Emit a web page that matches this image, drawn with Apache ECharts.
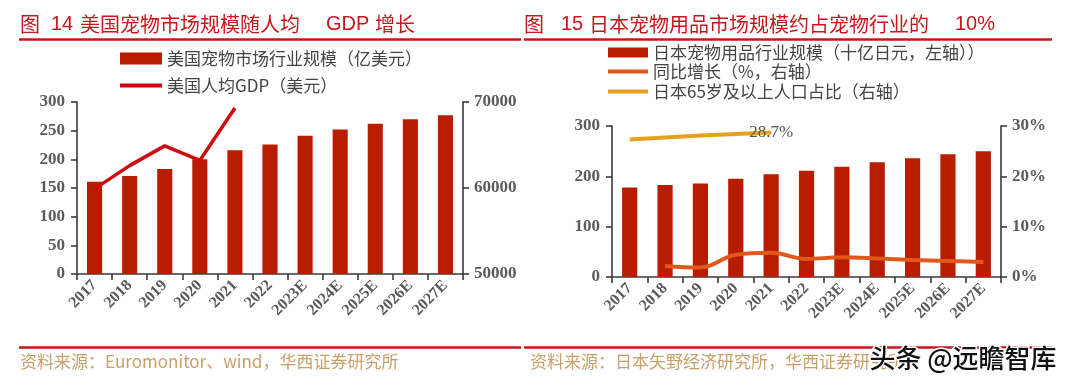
<!DOCTYPE html>
<html>
<head>
<meta charset="utf-8">
<script src="https://cdn.jsdelivr.net/npm/echarts@6/dist/echarts.min.js"></script>
<style>
html,body{margin:0;padding:0;background:#fff;}
#c{width:1080px;height:385px;}
</style>
</head>
<body>
<div id="c"></div>
<script>
// ---- data ----
const years = ['2017','2018','2019','2020','2021','2022','2023E','2024E','2025E','2026E','2027E'];
const usMarket = [161, 171, 183, 200, 216, 226, 241, 252, 262, 270, 277];
const usGdp = [59900, 62600, 64900, 63200, 69300];
const jpMarket = [178, 183, 186, 195, 204, 211, 219, 228, 236, 244, 250];
const jpGrowth = [null, 2.2, 1.9, 4.4, 4.8, 3.6, 3.9, 3.7, 3.4, 3.2, 3.0];
const jpAging = [27.3, 27.7, 28.1, 28.4, 28.7];
const usLeftTicks = {min: 0, max: 300, interval: 50};
const usRightTicks = {min: 50000, max: 70000, interval: 10000};
const jpLeftTicks = {min: 0, max: 300, interval: 100};
const jpRightTicks = {min: 0, max: 30, interval: 10};

const names = {
  usBar: '美国宠物市场行业规模（亿美元）',
  usLine: '美国人均GDP（美元）',
  jpBar: '日本宠物用品行业规模（十亿日元，左轴））',
  jpGrowth: '同比增长（%，右轴）',
  jpAging: '日本65岁及以上人口占比（右轴）'
};

const CJK = '"Noto Sans CJK SC", "Noto Sans", sans-serif';
const SERIF = '"Liberation Serif", "DejaVu Serif", serif';
const RED = '#c8161d';
const BAR = '#b81d00';
const AX = '#3a3a3a';
const LBL = '#5a5a5a';

function yAxisCfg(grid, ticks, pos, suffix) {
  return {
    type: 'value', gridIndex: grid, position: pos,
    min: ticks.min, max: ticks.max, interval: ticks.interval,
    axisLine: {show: true, lineStyle: {color: AX, width: 1.6}},
    axisTick: {show: true, length: 6, lineStyle: {color: AX, width: 1.6}},
    splitLine: {show: false},
    axisLabel: {color: LBL, fontFamily: SERIF, fontWeight: 'bold', fontSize: 17,
      margin: pos === 'left' ? 12 : 11, formatter: v => String(v) + (suffix || '')}
  };
}
function xAxisCfg(grid) {
  return {
    type: 'category', gridIndex: grid, data: years, boundaryGap: true,
    axisLine: {show: true, lineStyle: {color: AX, width: 1.6}},
    axisTick: {show: true, length: 6, alignWithLabel: false, lineStyle: {color: AX, width: 1.6}},
    axisLabel: {rotate: 45, color: LBL, fontFamily: SERIF, fontWeight: 'bold', fontSize: 16, margin: 9, interval: 0}
  };
}
function legendCfg(name, left, top, w, h) {
  return {
    data: [name], left: left, top: top, itemWidth: w, itemHeight: h, icon: 'rect',
    padding: 0, itemGap: 0, selectedMode: false,
    textStyle: {fontFamily: CJK, fontSize: 17, color: '#444'}
  };
}

const chart = echarts.init(document.getElementById('c'), null, {renderer: 'canvas'});
chart.setOption({
  animation: false,
  backgroundColor: '#fff',
  grid: [
    {left: 77, right: 617, top: 102, height: 172},
    {left: 612, right: 79, top: 126, height: 151}
  ],
  xAxis: [xAxisCfg(0), xAxisCfg(1)],
  yAxis: [
    yAxisCfg(0, usLeftTicks, 'left'),
    yAxisCfg(0, usRightTicks, 'right'),
    yAxisCfg(1, jpLeftTicks, 'left'),
    yAxisCfg(1, jpRightTicks, 'right', '%')
  ],
  legend: [
    legendCfg(names.usBar, 120, 50, 42, 12),
    legendCfg(names.usLine, 120, 77, 42, 4),
    legendCfg(names.jpBar, 608, 44, 40, 10),
    legendCfg(names.jpGrowth, 608, 63, 40, 4),
    legendCfg(names.jpAging, 608, 83, 40, 4)
  ],
  series: [
    {name: names.usBar, type: 'bar', xAxisIndex: 0, yAxisIndex: 0, data: usMarket,
      barWidth: '43%', itemStyle: {color: BAR}},
    {name: names.usLine, type: 'line', xAxisIndex: 0, yAxisIndex: 1, data: usGdp,
      symbol: 'none', lineStyle: {color: '#cc0a10', width: 3.5}, itemStyle: {color: '#cc0a10'}, z: 5},
    {name: names.jpBar, type: 'bar', xAxisIndex: 1, yAxisIndex: 2, data: jpMarket,
      barWidth: '43%', itemStyle: {color: BAR}},
    {name: names.jpGrowth, type: 'line', xAxisIndex: 1, yAxisIndex: 3, data: jpGrowth,
      smooth: 0.4, symbol: 'none', lineStyle: {color: '#e2581a', width: 4}, itemStyle: {color: '#e2581a'}, z: 5},
    {name: names.jpAging, type: 'line', xAxisIndex: 1, yAxisIndex: 3,
      data: jpAging.map((v, i) => i === jpAging.length - 1
        ? {value: v, symbol: 'circle', symbolSize: 1,
           label: {show: true, position: 'inside', formatter: '{c}%', fontFamily: SERIF, fontSize: 17, color: '#555'}}
        : v),
      symbol: 'none', showSymbol: true, lineStyle: {color: '#e8a020', width: 4}, itemStyle: {color: '#e8a020'}, z: 5}
  ],
  graphic: [
    // titles
    {type: 'text', left: 20, top: 14, style: {text: '图', font: '20px ' + CJK, fill: RED}},
    {type: 'text', left: 51, top: 14, style: {text: '14', font: '20px "Liberation Sans", sans-serif', fill: RED}},
    {type: 'text', left: 80, top: 14, style: {text: '美国宠物市场规模随人均', font: '20px ' + CJK, fill: RED}},
    {type: 'text', left: 326, top: 14, style: {text: 'GDP', font: '20px "Liberation Sans", sans-serif', fill: RED}},
    {type: 'text', left: 375, top: 14, style: {text: '增长', font: '20px ' + CJK, fill: RED}},
    {type: 'text', left: 524, top: 14, style: {text: '图', font: '20px ' + CJK, fill: RED}},
    {type: 'text', left: 561, top: 14, style: {text: '15', font: '20px "Liberation Sans", sans-serif', fill: RED}},
    {type: 'text', left: 589, top: 14, style: {text: '日本宠物用品市场规模约占宠物行业的', font: '20px ' + CJK, fill: RED}},
    {type: 'text', left: 955, top: 14, style: {text: '10%', font: '20px "Liberation Sans", sans-serif', fill: RED}},
    // red rules
    {type: 'line', shape: {x1: 19, y1: 39.5, x2: 521, y2: 39.5}, style: {stroke: RED, lineWidth: 2.5}},
    {type: 'line', shape: {x1: 524, y1: 39.5, x2: 1052, y2: 39.5}, style: {stroke: RED, lineWidth: 2.5}},
    {type: 'line', shape: {x1: 19, y1: 347.5, x2: 521, y2: 347.5}, style: {stroke: RED, lineWidth: 2.5}},
    {type: 'line', shape: {x1: 524, y1: 347.5, x2: 1052, y2: 347.5}, style: {stroke: RED, lineWidth: 2.5}},
    // sources
    {type: 'text', left: 20, top: 353, style: {text: '资料来源：Euromonitor、wind，华西证券研究所', font: '17px ' + CJK, fill: '#c9a06a'}},
    {type: 'text', left: 530, top: 353, style: {text: '资料来源：日本矢野经济研究所，华西证券研究所', font: '17px ' + CJK, fill: '#c9a06a'}},
    // watermark
    {type: 'text', left: 868, top: 344, z: 100, style: {text: '头条 @远瞻智库', font: '500 26px ' + CJK, fill: '#111', stroke: '#fff', lineWidth: 3}}
  ]
});
</script>
</body>
</html>
